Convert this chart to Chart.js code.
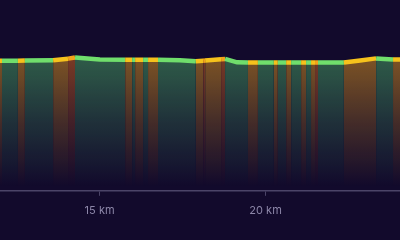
<!DOCTYPE html>
<html lang="en">
<head>
<meta charset="utf-8">
<title>Elevation profile</title>
<script src="https://cdn.jsdelivr.net/npm/chart.js@4.4.1/dist/chart.umd.min.js"></script>
<style>
  html, body { margin: 0; padding: 0; background: #120a2c; }
  #wrap { width: 400px; height: 240px; position: relative; }
</style>
</head>
<body>
<div id="wrap"><canvas id="chartProfile" width="400" height="240"></canvas></div>
<script>
/* ── Data ─────────────────────────────────────────────── */
const distanceKm = [
  12.00, 12.06, 12.54, 12.75, 13.60, 14.05, 14.26, 15.01, 15.77, 15.98,
  16.07, 16.31, 16.46, 16.76, 17.42, 17.90, 18.12, 18.18, 18.66, 18.78,
  19.14, 19.47, 19.77, 20.25, 20.37, 20.62, 20.77, 21.07, 21.22, 21.37,
  21.49, 21.58, 22.36, 22.85, 23.33, 23.84, 24.05
];
const elevationM = [
  102.3, 102.3, 102.3, 102.4, 102.6, 103.9, 104.8, 103.3, 103.0, 103.0,
  103.0, 103.1, 103.1, 103.0, 102.6, 101.8, 102.3, 102.5, 103.5, 103.7,
  101.0, 100.9, 100.9, 100.9, 100.9, 100.9, 100.9, 100.9, 100.9, 100.9,
  100.9, 100.9, 100.9, 102.4, 104.1, 103.3, 103.3
];
// grade class of the segment starting at each point
const gradeClass = [
  'mid', 'flat', 'mid', 'flat', 'mid', 'steep', 'flat', 'flat', 'mid', 'flat',
  'mid', 'flat', 'mid', 'flat', 'flat', 'mid', 'steep', 'mid', 'steep', 'flat',
  'flat', 'mid', 'flat', 'mid', 'flat', 'mid', 'flat', 'mid', 'flat', 'mid',
  'steep', 'flat', 'mid', 'mid', 'flat', 'mid', 'mid'
];
const tickKm = [15, 20];

/* ── Colours ──────────────────────────────────────────── */
const lineColors = { flat: '#70de6c', mid: '#f6c21c', steep: '#f2a31b' };
const fillRgb    = { flat: [81, 188, 107], mid: [250, 170, 30], steep: [240, 115, 30] };
const gradCache  = {};

function fillFor(chart, cls) {
  const area = chart.chartArea;
  if (!area) return 'transparent';
  const key = cls + area.top + ':' + area.bottom;
  if (gradCache[key]) return gradCache[key];
  const [r, g, b] = fillRgb[cls];
  const top = area.top + area.height * 0.32;
  const grad = chart.ctx.createLinearGradient(0, top, 0, area.bottom - 4);
  grad.addColorStop(0, `rgba(${r},${g},${b},0.45)`);
  grad.addColorStop(0.5, `rgba(${r},${g},${b},0.21)`);
  grad.addColorStop(1, `rgba(${r},${g},${b},0)`);
  gradCache[key] = grad;
  return grad;
}

/* ── Chart ────────────────────────────────────────────── */
const axisColor = '#4b4468';

const chart = new Chart(document.getElementById('chartProfile'), {
  type: 'line',
  data: {
    datasets: [{
      data: distanceKm.map((d, i) => ({ x: d, y: elevationM[i] })),
      borderWidth: 4.5,
      pointRadius: 0,
      tension: 0,
      fill: 'origin',
      borderColor: lineColors.flat,
      backgroundColor: 'transparent',
      segment: {
        borderColor: ctx => lineColors[gradeClass[ctx.p0DataIndex]],
        backgroundColor: ctx => fillFor(ctx.chart || chart, gradeClass[ctx.p0DataIndex])
      }
    }]
  },
  options: {
    responsive: false,
    animation: false,
    layout: { padding: { left: 0, right: 0, top: 0, bottom: 15 } },
    plugins: { legend: { display: false }, tooltip: { enabled: false } },
    scales: {
      x: {
        type: 'linear',
        min: 12,
        max: 24.05,
        afterBuildTicks: axis => { axis.ticks = tickKm.map(v => ({ value: v })); },
        grid: { drawOnChartArea: false, drawTicks: true, tickLength: 5, color: axisColor },
        border: { display: true, color: axisColor, width: 1.5 },
        ticks: {
          padding: 8,
          color: '#8c86a8',
          font: { family: 'Inter', size: 11 },
          callback: v => `${v} km`
        }
      },
      y: {
        display: false,
        min: 0,
        max: 150
      }
    }
  }
});
</script>
</body>
</html>
